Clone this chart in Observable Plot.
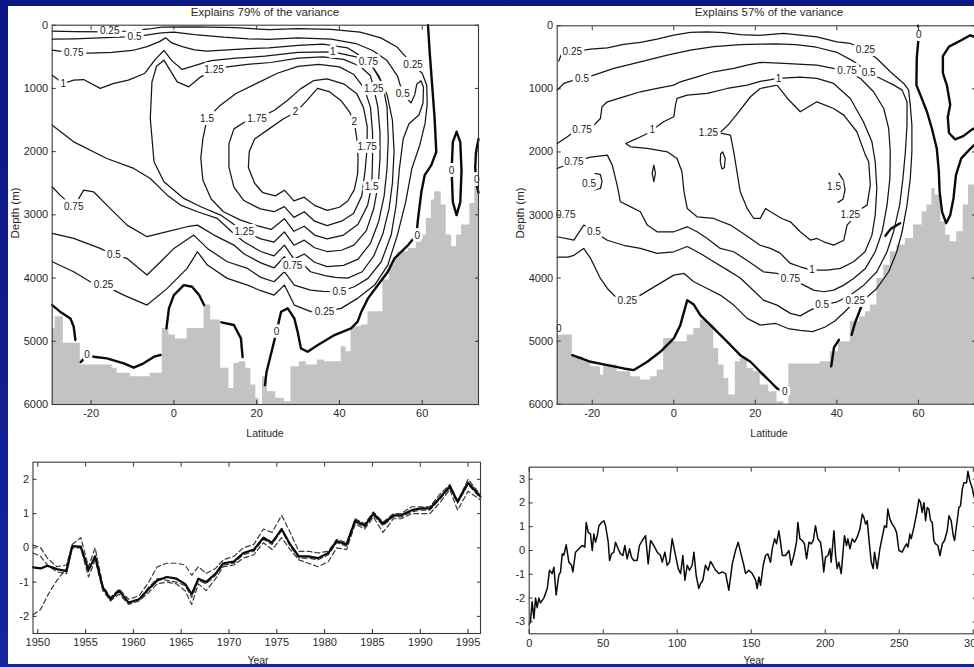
<!DOCTYPE html>
<html><head><meta charset="utf-8">
<script src="https://cdn.jsdelivr.net/npm/d3@7"></script>
<script src="https://cdn.jsdelivr.net/npm/@observablehq/plot@0.6"></script>
<style>
html,body{margin:0;padding:0;background:#0f1c8e;}
#stage{position:relative;width:974px;height:667px;overflow:hidden;background:linear-gradient(to bottom,#0b1682 0%,#16239c 100%);}
#paper{position:absolute;left:8px;top:6px;width:970px;height:658px;background:#fff;}
.panel{position:absolute;}
.panel svg{max-width:none !important;}
.lbl{position:absolute;font-family:"Liberation Sans",Arial,Helvetica,sans-serif;font-size:10.5px;color:#2a2a2a;white-space:nowrap;transform:translate(-50%,-50%);}
.ttl{font-size:11.5px;}
.rot{font-size:11.5px;transform:translate(-50%,-50%) rotate(-90deg);}
</style></head>
<body><div id="stage"><div id="paper"></div>
<div class="lbl ttl" style="left:265px;top:12px">Explains 79% of the variance</div>
<div class="lbl ttl" style="left:769px;top:12px">Explains 57% of the variance</div>
<div class="lbl rot" style="left:15px;top:213px">Depth (m)</div>
<div class="lbl rot" style="left:520px;top:213px">Depth (m)</div>
<div class="lbl" style="left:265px;top:433px">Latitude</div>
<div class="lbl" style="left:769px;top:433px">Latitude</div>
<div class="lbl" style="left:258px;top:660px">Year</div>
<div class="lbl" style="left:754px;top:660px">Year</div>
</div>
<script>
const FONT = '"Liberation Sans", Arial, Helvetica, sans-serif';

// ---------- axis ticks / extents ----------
const latTicks = [-20, 0, 20, 40, 60];
const depthTicks = [0, 1000, 2000, 3000, 4000, 5000, 6000];
const tlLatExtent = [-29.4, 73.6];
const trLatExtent = [-28.6, 74];
const yearTicks = [1950, 1955, 1960, 1965, 1970, 1975, 1980, 1985, 1990, 1995];
const pcLeftTicks = [-2, -1, 0, 1, 2];
const yearExtent = [1949.5, 1996.3];
const pcLeftExtent = [-2.5, 2.5];
const stepTicks = [0, 50, 100, 150, 200, 250, 300];
const pcRightTicks = [-3, -2, -1, 0, 1, 2, 3];
const stepExtent = [0, 302];
const pcRightExtent = [-3.5, 3.5];

// ---------- top-left (79%) contour lines: [latitude, depth] ----------
const tl_c2 = [[19.5,1800],[23,1640],[26.5,1480],[29.4,1380],[32,1200],[34.7,1000],[37.5,1050],[40.5,1200],[42.5,1380],[43.6,1530],[44.2,1800],[44.5,2100],[44.4,2350],[43.6,2600],[42,2780],[40,2880],[37,2930],[34,2850],[31.5,2720],[29,2780],[26.7,2610],[24.5,2700],[21.5,2650],[19.5,2500],[18,2250],[18.2,2000],[19.5,1800]];
const tl_c175 = [[17.7,1508],[14.5,1640],[13.3,1877],[13.3,2246],[14.5,2562],[16.9,2774],[20.9,2906],[24.2,2950],[26.7,2870],[29,3040],[31.5,2950],[34,3100],[37,3170],[40.5,3100],[43.4,2980],[45.4,2700],[46.2,2300],[46.7,1930],[46.7,1600],[45.8,1300],[44.2,1086],[41,928],[37,849],[33.8,876],[30.6,1007],[27.4,1191],[24.2,1350],[20.1,1482],[17.7,1508]];
const tl_c15 = [[8,1480],[7,1800],[6.5,2100],[7,2450],[9,2750],[12,2950],[16,3080],[20,3170],[23.5,3230],[26.7,3060],[29,3260],[31.5,3180],[34,3320],[37,3380],[41,3320],[44.5,3150],[46.8,2850],[47.8,2550],[48,2100],[48,1700],[47.5,1300],[46,1000],[43.5,780],[40,660],[35,620],[30,650],[25,760],[20,920],[15,1080],[11,1280],[8,1480]];
const tl_c125 = [[-2.4,553],[0.8,896],[3.6,975],[6.5,817],[9.7,711],[12.9,659],[17.8,620],[23.4,590],[30,520],[36,500],[41,540],[45,650],[47.5,800],[48.3,1000],[49.3,1300],[49.8,1700],[49.8,2100],[49.4,2500],[48.3,2900],[46.5,3250],[43.5,3480],[40.5,3560],[37,3580],[34,3520],[31.5,3400],[29,3480],[26.7,3270],[24.2,3430],[21,3380],[17,3267],[11.3,3004],[6.5,2872],[2.4,2740],[-2.4,2477],[-4.8,2161],[-5.7,1476],[-5.3,900],[-4.2,650],[-2.4,553]];
const tl_c1 = [[-29.4,790],[-26.7,922],[-24.2,870],[-21.8,860],[-17.8,1000],[-14.5,920],[-11,870],[-7,760],[-4.5,540],[-2.4,400],[-0.5,560],[2,700],[5,640],[9,560],[15,520],[22,490],[30,430],[38.4,422],[44,500],[48,650],[50.5,950],[51.5,1300],[51.8,1800],[51.5,2266],[50.8,2700],[49.5,3100],[47.5,3450],[44.5,3700],[41,3800],[37,3820],[34,3750],[31.5,3620],[29,3700],[26.7,3478],[24.2,3650],[21,3580],[17,3430],[14.5,3300],[10.5,3057],[5.7,2951],[1.6,2846],[-1.6,2688],[-5.7,2424],[-9.7,2266],[-16.2,2108],[-24.2,1845],[-29.4,1581]];
const tl_c075 = [[-29.4,395],[-24.2,440],[-20,440],[-15,430],[-10,400],[-6.5,340],[-3.5,260],[-2,200],[-0.5,280],[2,340],[5,390],[8,410],[13,390],[18,370],[23,360],[30,320],[36,300],[42,360],[46.9,560],[49.5,800],[51.5,1100],[52.8,1500],[53.2,2000],[52.8,2500],[52,2900],[50.5,3300],[48.3,3650],[45.5,3900],[42,4000],[39,3990],[36.5,3960],[33,3900],[31.5,3800],[29,3880],[26.7,3663],[24.2,3840],[21,3760],[17,3620],[14.5,3478],[9.7,3320],[5.7,3162],[3.2,3188],[-1.6,3267],[-6.5,3346],[-11.3,3162],[-16.2,2846],[-19.4,2635],[-21.8,2609],[-24.2,2880],[-27.5,2688],[-29.4,2556]];
const tl_c05 = [[-29.4,221],[-24,215],[-18,200],[-11.7,185],[-8,170],[-3,120],[0,110],[5,150],[12,190],[18,215],[23,225],[30,200],[38,220],[44,290],[48,400],[51.5,560],[54,800],[55.3,1080],[57.3,1230],[58.2,1100],[58.7,930],[59.7,880],[60.3,980],[60.2,1230],[59.2,1420],[56.8,1560],[55.4,1800],[54.5,2266],[53.7,2846],[52.5,3320],[50.1,3742],[46.9,4005],[43.6,4137],[40,4216],[36,4210],[33,4190],[29.1,4111],[26.7,3900],[24.2,4058],[21,3990],[17.8,3847],[12.9,3742],[8.1,3531],[4.8,3320],[0,3531],[-3.2,3742],[-6.5,3952],[-11.3,3689],[-14.5,3636],[-17.8,3531],[-24.2,3373],[-29.4,3294]];
const tl_c025 = [[-29.4,95],[-24,100],[-16.5,105],[-11,95],[-6,60],[-3,30],[5,25],[15,40],[23,70],[30,55],[38,65],[45,110],[50,200],[54,350],[57.8,632],[60,760],[61.1,950],[61.2,1250],[60.7,1550],[59.4,1900],[57.5,2266],[56,2800],[54,3320],[51.7,3794],[48.5,4111],[44.4,4321],[40.4,4479],[36.4,4532],[33.1,4532],[29.1,4427],[26.7,4111],[24.2,4269],[21,4200],[17.8,4111],[12.9,4005],[8.1,3794],[5.7,3584],[3.2,3847],[-1.6,4163],[-6.5,4427],[-12.1,4269],[-17,4111],[-20.2,4058],[-24.2,3900],[-29.4,3742]];
// zero contours (thick)
const tl_z_right = [[61.4,0],[61.8,422],[62.4,949],[63,1476],[63.4,2003],[62.2,2213],[60.6,2372],[59.8,2635],[59,3057],[58.6,3320],[56.6,3478],[53.3,3689],[51.7,3900],[49.3,4111],[46.9,4321],[45.3,4532],[44.4,4690],[42.8,4796],[38.8,4901],[34.8,5060],[32.3,5165],[30.7,5112],[29.9,4849],[29.1,4638],[27.5,4479],[25.9,4532],[24.8,4849],[23.6,5165],[22.4,5481],[22,5692]];
const tl_z_a = [[-29.4,4427],[-27.5,4532],[-25,4638],[-24.2,4770],[-23.8,4980]];
const tl_z_b = [[-22.5,5330],[-21,5217],[-19.4,5244],[-16.2,5270],[-12.1,5349],[-9.7,5418],[-7.3,5349],[-4.8,5244],[-3.2,5217]];
const tl_z_c = [[-1.8,4796],[-1.2,4480],[0,4269],[2.4,4111],[4.4,4137],[6.1,4269],[7.3,4427]];
const tl_z_d = [[11.5,4700],[14.5,4743],[16.2,4954],[16.6,5250]];
const tl_z_e = [[68.3,1686],[69.2,1850],[69.5,2300],[69.2,2800],[68.3,3004],[67.4,2800],[67.1,2300],[67.4,1850],[68.3,1686]];
const tl_z_f = [[73.6,1800],[73,2000],[72.8,2250],[73.1,2500],[73.6,2650]];
// contour labels
const tl_labels = [["0.25",-15.5,95],["0.5",-9.5,180],["0.75",-24.2,440],["1",-26.7,922],["1.25",9.7,711],["1.5",8,1480],["1.75",20.1,1482],["2",29.4,1376],["1",38.4,422],["0.75",47,580],["0.25",57.8,632],["1.25",48.3,1000],["0.5",55.3,1080],["2",43.6,1530],["1.75",46.7,1924],["1.5",47.8,2550],["0.75",-24.2,2880],["1.25",17,3267],["0.5",-14.5,3636],["0.25",-17,4111],["0.75",28.7,3800],["0.5",40,4216],["0.25",36.4,4532],["0",-21,5217],["0",24.8,4849],["0",58.8,3330],["0",67.1,2300],["0",73.2,2450]];
// bathymetry: [start latitude, depth of sea floor]
const tl_bathy = [[-29.4,4796],[-28.7,4611],[-26.7,5033],[-22.6,5375],[-14.9,5428],[-13.7,5507],[-10.5,5560],[-5.7,5507],[-2.8,4796],[-1.2,4900],[0.4,4965],[3.2,4796],[7.3,4427],[8.9,4664],[11.3,5428],[13.3,5745],[14.5,5349],[15.8,5323],[17.4,5428],[18.6,5692],[19.8,5903],[20.6,6000],[21.4,5560],[22.6,5797],[24.6,5903],[26.7,5955],[28.3,5402],[30.3,5323],[32,5375],[34.7,5296],[36.4,5323],[40.4,5086],[41.6,5165],[42.8,4796],[43.6,4770],[45.3,4743],[46.9,4532],[50.5,4032],[52.1,3794],[53.3,3689],[54.1,3584],[56.6,3531],[58.6,3320],[61,3057],[62.2,2767],[63,2635],[64.6,2846],[65.8,3320],[67.1,3505],[68.3,3320],[69.5,3162],[71.5,2820],[72.7,2530]];

// ---------- top-right (57%) contour lines ----------
const tr_c025 = [[-28.2,560],[-27.6,450],[-24.9,412],[-20.4,370],[-16.3,349],[-12.3,296],[-8.2,264],[-4.1,211],[0,148],[4.1,106],[8.2,95],[12.3,110],[16.3,140],[21.2,150],[27,122],[31,148],[35.1,174],[40,254],[43.3,280],[47,386],[49.8,518],[53.1,729],[56.4,914],[57.6,1020],[58,1258],[58.4,1575],[58.4,1998],[58,2421],[57.2,2843],[56,3266],[54.7,3583],[52.7,3900],[49.8,4165],[47,4323],[44.5,4366],[42,4530],[39.5,4680],[37,4780],[34,4850],[31,4830],[28,4800],[25,4720],[21.2,4746],[18,4640],[14.7,4429],[11.4,4270],[8.2,4165],[4.9,4059],[2.5,3927],[0,3953],[-4.1,4112],[-8.2,4270],[-11.4,4365],[-13.9,4323],[-16.3,4165],[-18,4006],[-20.4,3689],[-22.1,3530],[-24.5,3640],[-26,3668],[-28.6,3668]];
const tr_c05 = [[-28.6,1020],[-27,914],[-24.5,861],[-22.5,835],[-19.6,782],[-14.7,676],[-8.2,571],[-1.6,465],[4.1,386],[9.8,330],[16.3,300],[21.2,290],[25,285],[30,300],[35,340],[40,420],[44,560],[47.8,740],[50.7,835],[54,941],[56,1020],[57.2,1205],[57.2,1575],[56.8,1998],[56.2,2421],[55.4,2843],[53.9,3266],[52.3,3583],[49.8,3900],[46.6,4112],[43.3,4270],[40.1,4376],[36.4,4429],[33.5,4508],[31,4600],[28.6,4560],[25.3,4429],[22,4350],[19.6,4200],[16.3,4000],[13.1,3870],[9.8,3740],[6.5,3610],[3.3,3500],[0,3583],[-4.1,3610],[-8.2,3530],[-12.3,3480],[-16.3,3400],[-19.6,3266],[-22.1,3160],[-24.5,3398],[-28.6,3345]];
const tr_c075 = [[-28.6,1866],[-26.1,1760],[-24.5,1680],[-22.5,1654],[-19.6,1575],[-18,1469],[-17.6,1284],[-16.3,1205],[-12.3,1126],[-8.2,1046],[-4.1,994],[0,941],[1.6,888],[5.7,809],[9.8,729],[14.7,676],[18,624],[21.2,580],[27,597],[35.1,624],[42.5,719],[45.8,835],[49,1046],[51.5,1311],[52.7,1628],[53.1,1998],[53,2421],[52.3,2843],[51.1,3266],[49.4,3583],[47,3847],[44.1,4006],[41.7,4112],[39.2,4191],[36.8,4217],[34.3,4191],[31.9,4112],[28.6,4006],[25.3,3927],[22,3900],[18,3720],[14.7,3583],[11.4,3530],[8.2,3372],[5.7,3266],[3.3,3187],[0,3266],[-4.1,3266],[-6.5,3160],[-8.2,2949],[-11.4,2843],[-13.1,2790],[-13.9,2526],[-15.1,2209],[-16.3,2051],[-20.4,2081],[-24.5,2156],[-28.6,2262]];
const tr_c1 = [[-11.8,1866],[-9,1786],[-6.5,1707],[-5.3,1654],[-2.5,1522],[0,1443],[0.4,1258],[0.8,1152],[3.3,1099],[8.2,1073],[13.1,994],[18,940],[21.2,880],[25.7,835],[31,813],[35.1,835],[39.2,914],[43.3,1152],[46.5,1522],[48.6,1839],[49.4,2156],[49.8,2579],[49.4,3002],[48.6,3319],[46.9,3583],[44.1,3742],[40.9,3847],[37.6,3874],[33.9,3874],[31,3821],[28.6,3768],[26,3600],[23.7,3530],[21.2,3480],[17.2,3300],[13.9,3160],[9.8,3055],[5.7,3028],[3.3,2896],[2.5,2632],[2,2315],[0.8,2103],[-1.6,1998],[-6.5,1945],[-10.6,1918],[-11.8,1866]];
const tr_c125a = [[8.5,1690],[11.4,1690],[13.5,1560],[15.5,1400],[18.8,1125],[21.2,994],[25.3,941],[27.9,1152],[31,1363],[35.1,1205],[39.2,1311],[41.7,1416],[44.9,1680],[47,2051],[47.8,2156],[48.2,2526],[47.4,2843],[46,2900]];
const tr_c125b = [[43.3,3100],[42.5,3161],[41.7,3400],[39.2,3478],[36.8,3425],[35.1,3372],[33.5,3398],[31,3266],[28.6,3108],[26.5,3055],[23.7,2949],[22.5,2896],[21.2,3055],[19.6,3055],[18,2896],[16.3,2632],[15.5,2315],[14.7,1998],[13.9,1733],[11.4,1700]];
const tr_s1 = [[-4.9,2210],[-4.5,2340],[-4.9,2470],[-5.3,2340],[-4.9,2210]];
const tr_s2 = [[12,2000],[12.6,2100],[12.4,2250],[11.8,2270],[11.4,2150],[11.5,2030],[12,2000]];
const tr_s3 = [[40.5,2340],[41.6,2450],[42,2600],[41.5,2750],[40.3,2800]];
const tr_s4 = [[-19.3,2340],[-18,2360],[-17.6,2470],[-18,2580],[-19.5,2600]];
const tr_s5 = [[-28.6,3080],[-27.8,2950],[-26.6,2920]];
const tr_z_a = [[-24.9,5222],[-20.4,5327],[-16.3,5380],[-12.3,5433],[-9.8,5459],[-6.5,5327],[-3.3,5169],[0,4957],[1.6,4746],[3.3,4350],[4.9,4420],[6.5,4587],[9.8,4799],[13.1,5010],[16.3,5222],[18.8,5327],[21.2,5486],[23.7,5644],[25.3,5750],[27,5803]];
const tr_z_b = [[-28.6,4700],[-28.1,4800],[-28.6,4880]];
const tr_z_c = [[59.9,0],[60.1,150],[59.6,500],[59.5,941],[60.5,1099],[62.1,1363],[63.3,1628],[64.5,1945],[65,2300],[65.2,2632],[65.8,2949],[66.8,3130],[67.8,3002],[68.6,2738],[69.2,2368],[70.5,2103],[72,2000],[73.5,1900],[74,1880]];
const tr_z_d = [[74,180],[72.7,150],[70.5,230],[67.5,330],[66,480],[66,750],[67,950],[67.8,1250],[67.2,1450],[67.5,1700],[69,1800],[71,1750],[73,1650],[74,1620]];
const tr_z_e = [[51.9,3330],[53.2,3220],[55.5,3130]];
const tr_z_f = [[43.6,4900],[44.5,4700],[46,4450]];
const tr_z_g = [[38.6,5400],[39.3,5100],[40.5,4980]];
const tr_labels = [["0.25",-24.9,412],["0.5",-22.5,835],["0.75",-22.5,1654],["1",-5.3,1654],["1.25",8.5,1690],["0.75",-24.5,2156],["0.5",-20.8,2500],["0.75",-26.5,3000],["0.5",-19.6,3266],["0.25",-11.4,4366],["0",-28.2,4800],["0.25",47,386],["0.75",42.5,719],["0.5",47.8,740],["1",25.7,835],["1.5",39.3,2560],["1.25",43.3,3002],["1",33.9,3874],["0.75",28.6,4006],["0.5",36.4,4429],["0.25",44.5,4366],["0",27.2,5810],["0",60.1,150]];
const tr_bathy = [[-28.6,4904],[-24.9,5248],[-22.1,5327],[-20.4,5407],[-18,5539],[-17.2,5380],[-13.9,5486],[-10.6,5565],[-8.2,5618],[-5.7,5565],[-4.1,5460],[-2.5,4957],[0,5010],[3.3,4904],[4.9,4799],[6.5,4667],[8.2,4746],[9.8,5116],[11,5380],[12.3,5592],[13.5,5856],[15.1,5327],[16.3,5274],[18,5433],[19.6,5486],[21.2,5697],[23.3,5803],[25.3,5961],[27,6000],[28.2,5364],[35.9,5327],[38.4,5169],[40.4,5010],[43.3,4693],[45.6,4614],[47,4535],[48.2,4429],[49.8,4006],[51.5,3795],[53.1,3583],[54.7,3477],[56.8,3372],[58.8,3160],[60.9,2949],[62.1,2843],[63.3,2579],[64.1,2685],[65.5,3108],[66.7,3319],[67.8,3425],[69.4,3266],[71,2843],[72.3,2526]];

// ---------- bottom-left: principal component time series ----------
const blYears = [1949.5,1950.3,1951,1952,1953,1953.6,1954.5,1955.3,1956,1956.8,1957.6,1958.5,1959.5,1960.6,1961.6,1962.5,1963.5,1964.5,1965.4,1966.1,1966.8,1967.6,1968.6,1969.4,1970.5,1971.5,1972.6,1973.6,1974.5,1975.5,1976.4,1977.3,1978.3,1979.3,1980.4,1981.25,1982.3,1983.2,1984.2,1985.1,1986.1,1987.2,1988,1989.1,1990.1,1991,1992,1993.1,1993.9,1995,1996.3];
const blSolid = [-0.57,-0.6,-0.52,-0.62,-0.68,0.05,0.03,-0.65,-0.25,-1.15,-1.5,-1.25,-1.6,-1.5,-1.2,-0.95,-0.85,-0.9,-1.05,-1.35,-0.9,-1.0,-0.75,-0.45,-0.4,-0.15,-0.05,0.3,0.15,0.55,0.1,-0.25,-0.25,-0.3,-0.15,0.2,0.1,0.8,0.65,1.0,0.7,0.95,0.95,1.1,1.15,1.15,1.45,1.8,1.35,1.9,1.5];
const blDashA = [0.08,0.0,-0.3,-0.55,-0.5,0.1,0.3,-0.55,0.0,-1.1,-1.45,-1.2,-1.5,-1.4,-1.0,-0.55,-0.45,-0.45,-0.5,-0.8,-0.55,-0.75,-0.6,-0.35,-0.25,0.0,0.1,0.55,0.45,0.95,0.45,-0.1,-0.1,-0.15,-0.1,0.25,0.15,0.85,0.7,1.05,0.75,1.0,1.0,1.2,1.2,1.2,1.55,1.85,1.35,2.0,1.55];
const blDashB = [-0.15,-0.25,-0.5,-0.7,-0.75,0.0,0.0,-0.85,-0.35,-1.25,-1.55,-1.35,-1.65,-1.55,-1.3,-1.05,-1.0,-1.05,-1.25,-1.65,-1.05,-1.25,-0.9,-0.55,-0.5,-0.3,-0.2,0.15,-0.05,0.3,-0.05,-0.35,-0.45,-0.55,-0.4,0.0,-0.05,0.7,0.55,0.9,0.45,0.85,0.85,1.0,1.0,1.0,1.3,1.7,1.1,1.65,1.4];
const blDashC = [-1.95,-1.8,-1.4,-0.95,-0.6,0.05,0.05,-0.7,-0.2,-1.2,-1.5,-1.25,-1.6,-1.5,-1.15,-0.9,-0.95,-1.0,-1.1,-1.45,-0.95,-1.05,-0.8,-0.5,-0.45,-0.2,-0.1,0.25,0.1,0.5,0.05,-0.3,-0.3,-0.35,-0.2,0.15,0.05,0.75,0.6,0.95,0.65,0.9,0.9,1.05,1.1,1.1,1.4,1.75,1.3,1.85,1.45];

// ---------- bottom-right: model time series ----------
const brStep = [0,0.9,2,3.2,4.3,5.4,6.5,7.6,9.9,12.2,13.7,15.5,16.7,18.2,20,21.2,22.3,23.4,25,26.8,28.6,29.5,31.3,33.6,35.8,37.6,38.5,39.9,41.4,42.6,43.7,44.8,46,47.1,48.9,50.5,51.6,53.4,54.3,55.6,57.2,58.3,60.1,61.7,63.3,64.6,66.2,67.8,69.1,70.7,72.9,74.5,76.4,78.6,80.4,82,84.2,86.5,88.7,89.9,91.7,93.2,94.8,96.6,98.4,100.7,102.3,103.8,105.2,106.8,108.3,110.1,111.3,112.8,114.6,115.8,117.3,119.1,120.9,122.5,124.1,125.9,128.2,130.4,132.7,134.9,137.2,139.4,141.2,142.8,145,146.2,148.4,150.7,153,154,155.2,156.3,158.1,159.7,161.2,163,164.2,165.8,167.1,168.7,169.8,171,173.2,175.5,177,178.8,180.6,181.5,182.9,184.5,186,187.4,189,190.5,191.9,193.4,195,196.8,197.9,199,200.2,201.8,203.2,204,205.9,207,208.1,209.2,210.8,212.2,213,214.4,215.3,216.7,218.2,219.8,221.6,223.4,225,226.1,227.3,228.4,229.5,231.1,232.4,233.3,235.1,236.9,238.5,240.1,241.4,242.3,243.7,245.2,246.8,248.2,249.8,252,253.6,254.9,255.9,257.2,258.1,259.9,261.7,263.3,264.4,265.5,266.7,267.8,268.9,270,271.2,272.3,273.4,274.5,276.1,277.5,279.1,280.6,282.4,283.6,285.1,286.5,287.4,288.7,290.3,291.4,292.6,293.7,295.5,296.4,297.7,299.3,300.4,302];
const brValue = [-3.1,-2.99,-2.15,-2.85,-2.0,-2.4,-2.0,-2.2,-2.0,-1.6,-0.83,-0.97,-0.7,-1.87,-1.04,-0.9,-0.14,-0.2,0.24,-0.49,-0.62,-0.9,-0.07,0.07,0.21,0.14,1.18,0.76,0.69,0,0.69,0.35,0.62,1.04,1.18,1.25,1.04,0.35,-0.42,-0.14,-0.07,0.35,0.07,-0.14,-0.21,0.21,-0.35,0.07,-0.28,-0.42,-0.42,0.21,0.42,0.62,-0.56,0.42,0.21,-0.07,-0.21,-0.49,-0.07,-0.62,-0.49,0.49,-0.07,-0.76,-0.97,-0.21,-1.25,-0.62,-0.83,-0.62,-0.07,-1.04,-1.6,-1.39,-1.25,-0.62,-0.83,-0.46,-0.62,-0.83,-0.97,-0.9,-0.97,-1.67,-0.56,0,0.35,-0.07,-0.62,-0.97,-0.83,-0.97,-1.25,-1.6,-1.11,-1.46,-0.62,-0.21,-0.14,-0.49,0.07,0.49,0.28,0.83,0.35,-0.21,-0.21,0,-0.62,-0.21,0.35,1.18,0.49,0.42,0.28,-0.35,0.35,0.28,0.42,1.04,0.49,0.35,-0.14,-0.9,-0.28,-0.21,0.07,-0.49,0.83,-0.21,-0.76,-0.49,-0.97,0.07,0.62,0.21,0.49,0.07,0.49,0.35,0.56,0.9,1.53,1.39,1.11,1.25,0.49,-0.49,-0.76,-0.07,-0.76,0.07,0.56,1.04,0.97,1.74,1.32,1.11,0.97,0.76,0,-0.07,0.14,0.28,0.14,0.69,0.49,0.97,1.53,2.15,2.01,1.6,2.01,1.25,1.81,1.74,1.25,1.18,0.42,0.28,0.21,-0.21,0.28,0.42,0.83,1.46,1.25,0.62,0.42,1.04,1.81,1.88,2.57,2.85,2.85,3.33,2.92,2.64,2.29,2.0];

// ---------- helpers ----------
const toRows = (lines) => lines.flatMap(([id, pts]) => pts.map(([x, y]) => ({id, x, y})));
const labelRows = (labs) => labs.map(([text, x, y]) => ({text, x, y}));
const bathyRows = (steps, xEnd) => [...steps.map(([x, d]) => ({x, d})), {x: xEnd, d: steps[steps.length - 1][1]}];
const fmt = (d) => String(d);
function boxAxes(xt, yt) {
  return [
    Plot.axisX(xt, {anchor: "bottom", tickSize: -4, tickPadding: 9, tickFormat: fmt, label: null, stroke: "#333", fill: "#2a2a2a"}),
    Plot.axisX(xt, {anchor: "top", tickSize: -4, tickFormat: () => "", label: null, stroke: "#333"}),
    Plot.axisY(yt, {anchor: "left", tickSize: -4, tickPadding: 8, tickFormat: fmt, label: null, stroke: "#333", fill: "#2a2a2a"}),
    Plot.axisY(yt, {anchor: "right", tickSize: -4, tickFormat: () => "", label: null, stroke: "#333"}),
    Plot.frame({stroke: "#3a3a3a", strokeWidth: 1.1})
  ];
}
const baseStyle = {fontFamily: FONT, fontSize: "11px", color: "#2a2a2a", background: "transparent", overflow: "visible", maxWidth: "none"};

function contourPanel({latExtent, thin, thick, labels, bathy, m}) {
  const depthMax = depthTicks[depthTicks.length - 1];
  return Plot.plot({
    width: m.width, height: m.height,
    marginLeft: m.left, marginRight: m.right, marginTop: m.top, marginBottom: m.bottom,
    style: baseStyle,
    x: {domain: latExtent},
    y: {domain: [depthTicks[0], depthMax], reverse: true},
    marks: [
      Plot.areaY(bathyRows(bathy, latExtent[1]), {x: "x", y1: depthMax, y2: "d", curve: "step-after", fill: "#c3c3c3"}),
      Plot.line(toRows(thin), {x: "x", y: "y", z: "id", stroke: "#161616", strokeWidth: 1.25, strokeLinejoin: "round"}),
      Plot.line(toRows(thick), {x: "x", y: "y", z: "id", stroke: "#0a0a0a", strokeWidth: 2.4, strokeLinejoin: "round"}),
      Plot.text(labelRows(labels), {x: "x", y: "y", text: "text", fontSize: 10, fill: "#1a1a1a", stroke: "white", strokeWidth: 6, strokeLinejoin: "round", paintOrder: "stroke"}),
      ...boxAxes(latTicks, depthTicks)
    ]
  });
}

function place(el, left, top, w, h) {
  const d = document.createElement("div");
  d.className = "panel";
  d.style.left = left + "px";
  d.style.top = top + "px";
  d.style.width = w + "px";
  d.style.height = h + "px";
  d.appendChild(el);
  document.getElementById("stage").appendChild(d);
}

// top-left
place(contourPanel({
  latExtent: tlLatExtent,
  thin: [["a", tl_c2], ["b", tl_c175], ["c", tl_c15], ["d", tl_c125], ["e", tl_c1], ["f", tl_c075], ["g", tl_c05], ["h", tl_c025]],
  thick: [["r", tl_z_right], ["a", tl_z_a], ["b", tl_z_b], ["c", tl_z_c], ["d", tl_z_d], ["e", tl_z_e], ["f", tl_z_f]],
  labels: tl_labels, bathy: tl_bathy,
  m: {width: 487, height: 440, left: 51.7, right: 9, top: 24.7, bottom: 36}
}), 0, 0, 487, 440);

// top-right
place(contourPanel({
  latExtent: trLatExtent,
  thin: [["a", tr_c025], ["b", tr_c05], ["c", tr_c075], ["d", tr_c1], ["e", tr_c125a], ["f", tr_c125b], ["s1", tr_s1], ["s2", tr_s2], ["s3", tr_s3], ["s4", tr_s4], ["s5", tr_s5]],
  thick: [["a", tr_z_a], ["b", tr_z_b], ["c", tr_z_c], ["d", tr_z_d], ["e", tr_z_e], ["f", tr_z_f], ["g", tr_z_g]],
  labels: tr_labels, bathy: tr_bathy,
  m: {width: 500, height: 440, left: 69.7, right: 12, top: 25.3, bottom: 36.3}
}), 487, 0, 500, 440);

// bottom-left
const blRows = (vals) => blYears.map((t, i) => ({t, v: vals[i]}));
place(Plot.plot({
  width: 487, height: 227, marginLeft: 32.5, marginRight: 7, marginTop: 21.7, marginBottom: 34,
  style: baseStyle,
  x: {domain: yearExtent},
  y: {domain: pcLeftExtent},
  marks: [
    Plot.line(blRows(blDashA), {x: "t", y: "v", stroke: "#3a3a3a", strokeWidth: 1.2, strokeDasharray: "5,3"}),
    Plot.line(blRows(blDashB), {x: "t", y: "v", stroke: "#3a3a3a", strokeWidth: 1.2, strokeDasharray: "5,3"}),
    Plot.line(blRows(blDashC), {x: "t", y: "v", stroke: "#3a3a3a", strokeWidth: 1.2, strokeDasharray: "5,3"}),
    Plot.line(blRows(blSolid), {x: "t", y: "v", stroke: "#0a0a0a", strokeWidth: 2.2, strokeLinejoin: "round"}),
    ...boxAxes(yearTicks, pcLeftTicks)
  ]
}), 0, 440, 487, 227);

// bottom-right
place(Plot.plot({
  width: 500, height: 227, marginLeft: 41.7, marginRight: 11.3, marginTop: 26.7, marginBottom: 33.7,
  style: baseStyle,
  x: {domain: stepExtent},
  y: {domain: pcRightExtent},
  marks: [
    Plot.line(brStep.map((t, i) => ({t, v: brValue[i]})), {x: "t", y: "v", stroke: "#0a0a0a", strokeWidth: 1.5, strokeLinejoin: "round"}),
    ...boxAxes(stepTicks, pcRightTicks)
  ]
}), 487, 440, 500, 227);
</script>
</body></html>
